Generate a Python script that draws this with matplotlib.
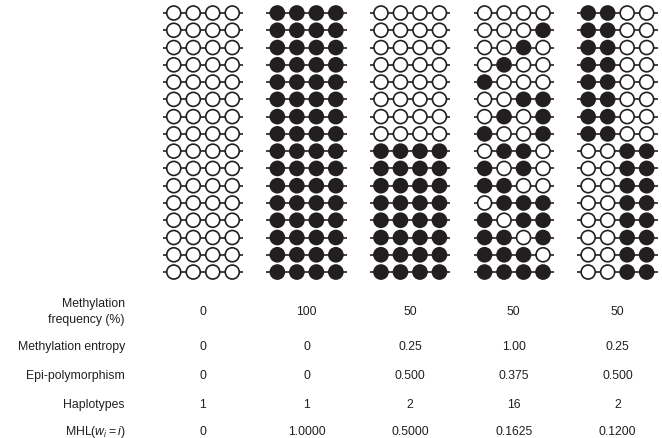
import numpy as np
import matplotlib.pyplot as plt
from matplotlib.patches import Circle

plt.rcParams['font.family'] = ['Liberation Sans', 'DejaVu Sans']
plt.rcParams['mathtext.fontset'] = 'custom'
plt.rcParams['mathtext.rm'] = 'Liberation Sans'
plt.rcParams['mathtext.it'] = 'Liberation Sans:italic'

# one string per sequencing read, 1 = methylated CpG
panel1 = ["0000"] * 16
panel2 = ["1111"] * 16
panel3 = ["0000"] * 8 + ["1111"] * 8
panel4 = ["0000", "0001", "0010", "0100", "1000", "0011", "0101", "1001",
          "0110", "1010", "1100", "0111", "1011", "1101", "1110", "1111"]
panel5 = ["1100"] * 8 + ["0011"] * 8
panels = [panel1, panel2, panel3, panel4, panel5]

row_labels = ["Methylation\nfrequency (%)", "Methylation entropy",
              "Epi-polymorphism", "Haplotypes", r"MHL($w_i = i$)"]
meth_freq = ["0", "100", "50", "50", "50"]
entropy = ["0", "0", "0.25", "1.00", "0.25"]
epi_poly = ["0", "0", "0.500", "0.375", "0.500"]
haplotypes = ["1", "1", "2", "16", "2"]
mhl = ["0", "1.0000", "0.5000", "0.1625", "0.1200"]
table = [meth_freq, entropy, epi_poly, haplotypes, mhl]

ink = '#231f20'
W, H = 662, 439
fig = plt.figure(figsize=(W / 100, H / 100), dpi=100)
ax = fig.add_axes([0, 0, 1, 1])
ax.set_xlim(0, W)
ax.set_ylim(H, 0)
ax.axis('off')

# layout in pixels
x0, dx_panel = 203, 103.6
dx_cpg = 19.5
y0, dy_row = 14, 17.27
r = 7
stub = 4

for k, reads in enumerate(panels):
  xc = x0 + k * dx_panel
  xs = xc + (np.arange(4) - 1.5) * dx_cpg
  for i, read in enumerate(reads):
    y = y0 + i * dy_row
    ax.plot([xs[0] - r - stub, xs[-1] + r + stub], [y, y], color=ink, lw=1.2,
            zorder=1, solid_capstyle='butt')
    for j, s in enumerate(read):
      fc = ink if s == "1" else 'white'
      ax.add_patch(Circle((xs[j], y), r, facecolor=fc, edgecolor=ink,
                          lw=1.2, zorder=2))

# table of summary statistics
row_y = [312, 347, 376, 405, 432]
for lab, vals, y in zip(row_labels, table, row_y):
  ax.text(125, y, lab, ha='right', va='center', fontsize=8.8, color=ink,
          linespacing=1.45)
  for k, v in enumerate(vals):
    ax.text(x0 + k * dx_panel, y, v, ha='center', va='center', fontsize=8.8,
            color=ink)

fig.savefig('out.png', dpi=100)
